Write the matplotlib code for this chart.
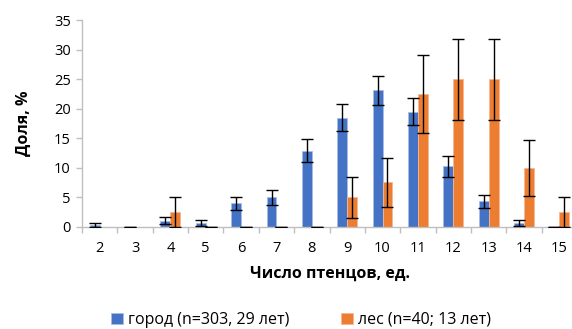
import numpy as np
import matplotlib.pyplot as plt
from matplotlib.ticker import FixedLocator, NullFormatter

plt.rcParams['font.family'] = ['Open Sans', 'DejaVu Sans']

# clutch size categories
chicks = ['2', '3', '4', '5', '6', '7', '8', '9', '10', '11', '12', '13', '14', '15']

# share of broods, % (city n=303, forest n=40)
city = [0.33, 0, 0.99, 0.66, 3.96, 4.95, 12.87, 18.48, 23.10, 19.47, 10.23, 4.29, 0.66, 0]
city_err = [0.33, 0, 0.57, 0.47, 1.12, 1.25, 1.92, 2.23, 2.42, 2.27, 1.74, 1.16, 0.47, 0]
forest = [np.nan, np.nan, 2.5, 0, 0, 0, 0, 5.0, 7.5, 22.5, 25.0, 25.0, 10.0, 2.5]
forest_err = [np.nan, np.nan, 2.47, 0, 0, 0, 0, 3.45, 4.16, 6.60, 6.85, 6.85, 4.74, 2.47]

BLUE = '#4472C4'
ORANGE = '#ED7D31'

fig = plt.figure(figsize=(5.72, 3.29), dpi=100)
ax = fig.add_axes([82 / 572, 0.311, 495 / 572, 0.628])

x = np.arange(len(chicks))
w = 0.28
ax.bar(x - w / 2, city, w, color=BLUE, edgecolor='#a9bde6', linewidth=0.6,
       label='город (n=303, 29 лет)', zorder=2)
ax.bar(x + w / 2, forest, w, color=ORANGE, edgecolor='#f5b894', linewidth=0.6,
       label='лес (n=40; 13 лет)', zorder=2)
ax.errorbar(x - w / 2, city, yerr=city_err, fmt='none', ecolor='black',
            elinewidth=1, capsize=4.5, capthick=1, zorder=3)
ax.errorbar(x + w / 2, forest, yerr=forest_err, fmt='none', ecolor='black',
            elinewidth=1, capsize=4.5, capthick=1, zorder=3)

ax.set_xlim(-0.5, len(chicks) - 0.5)
ax.set_ylim(0, 35)
ax.set_yticks(np.arange(0, 36, 5))
ax.set_xticks(x)
ax.set_xticklabels(chicks)
ax.xaxis.set_minor_locator(FixedLocator(np.arange(-0.5, len(chicks), 1.0)))
ax.xaxis.set_minor_formatter(NullFormatter())
ax.tick_params(axis='x', which='major', length=0, pad=10, labelsize=10.5, colors='black')
ax.tick_params(axis='x', which='minor', length=4, color='#bfbfbf', width=1)
ax.tick_params(axis='y', length=4, color='#bfbfbf', width=1, labelsize=10.5, pad=4)

for s in ['top', 'right']:
    ax.spines[s].set_visible(False)
for s in ['left', 'bottom']:
    ax.spines[s].set_color('#bfbfbf')
    ax.spines[s].set_linewidth(1)

ax.set_ylabel('Доля, %', fontsize=11.5, fontweight='bold', labelpad=16)
ax.set_xlabel('Число птенцов, ед.', fontsize=11.5, fontweight='bold', labelpad=7)

fig.legend(loc='center', bbox_to_anchor=(301 / 572, 1 - 320 / 329), ncol=2,
           frameon=False, fontsize=11.5, handlelength=0.75, handleheight=0.75,
           handletextpad=0.35, columnspacing=3.2)

fig.savefig('out.png', dpi=100)
